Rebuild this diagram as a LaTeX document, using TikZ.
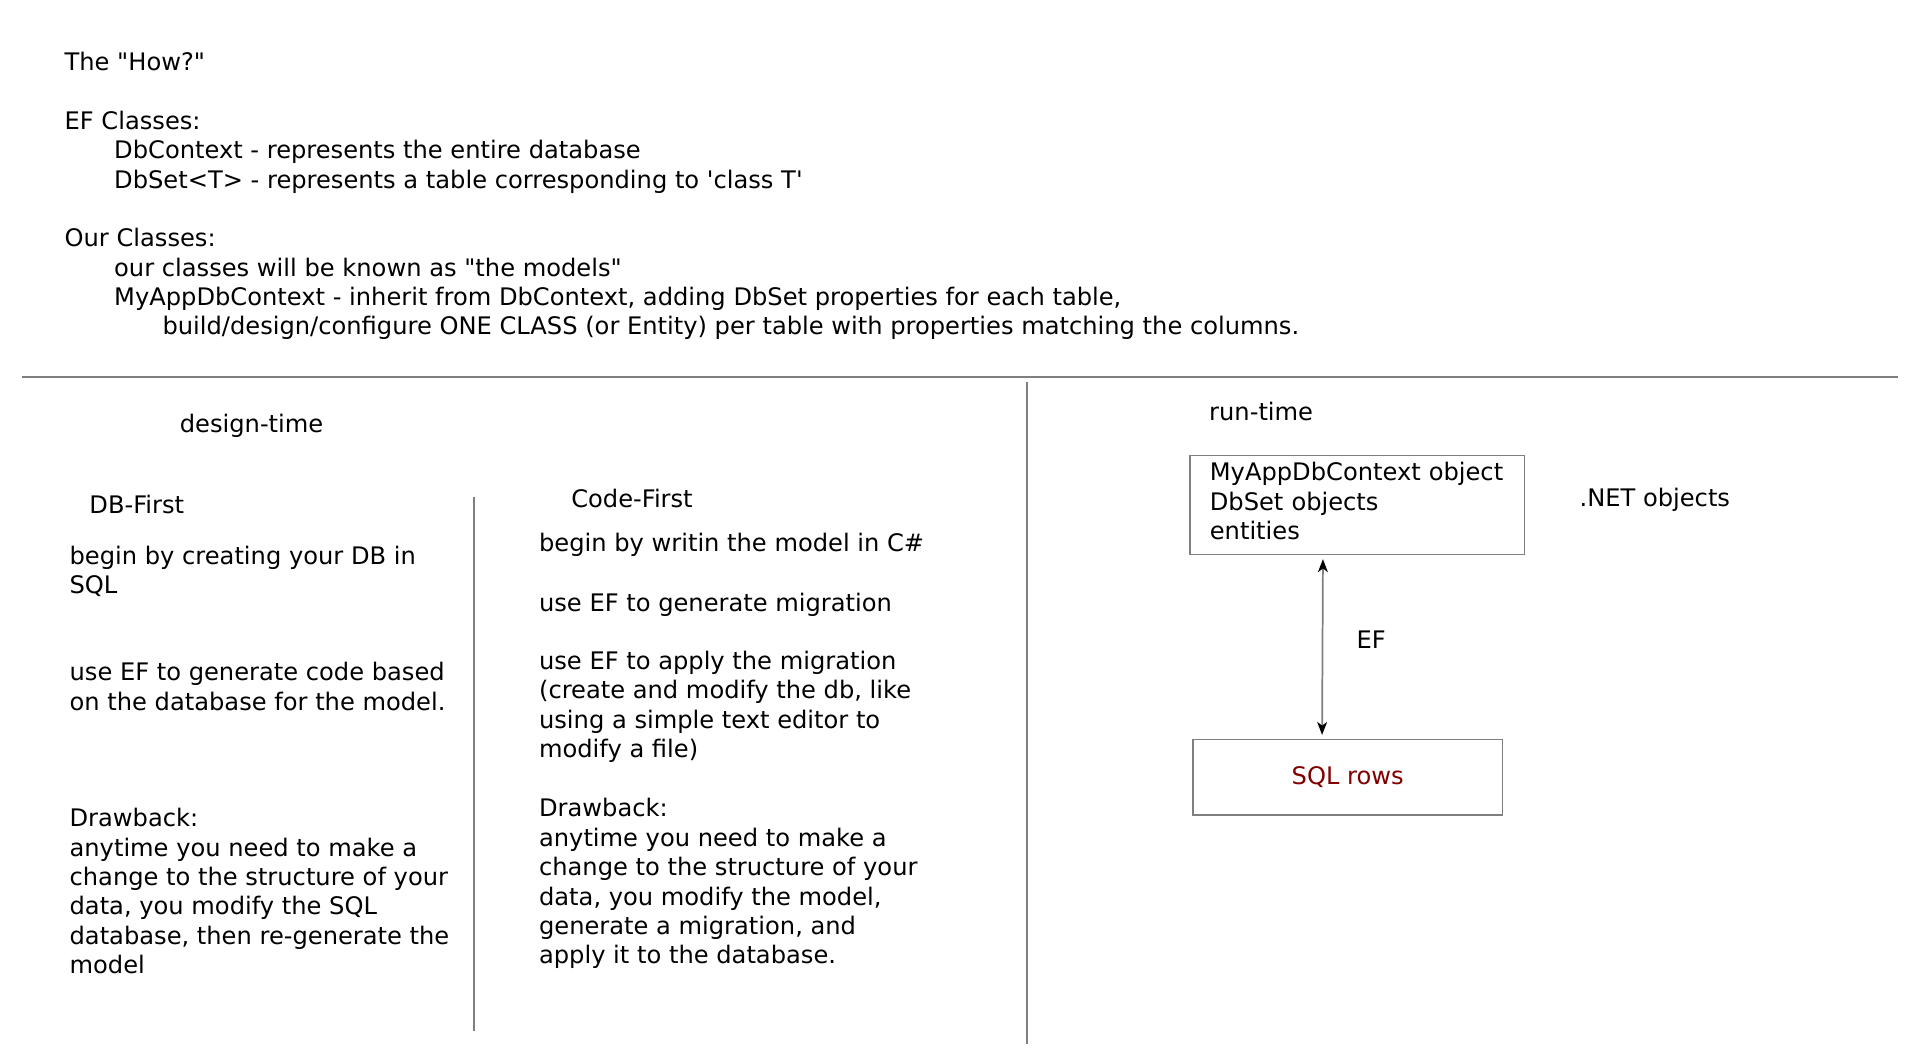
\documentclass[tikz,border=0pt]{standalone}
\usepackage{fontspec}
\setmainfont{DejaVu Sans}[Ligatures=TeXOff]
\usetikzlibrary{arrows.meta,calc}
\definecolor{rule}{HTML}{7F7F7F}
\definecolor{sqlred}{HTML}{800000}
\begin{document}
\begin{tikzpicture}[x=1pt,y=-1pt,
  txt/.style={anchor=base west, inner sep=0pt, align=left, font=\fontsize{19.5}{23.7}\selectfont},
  divider/.style={draw=rule, line width=1.6pt},
  boxed/.style={draw=rule, line width=1.4pt, font=\fontsize{19.5}{23.7}\selectfont},
  link/.style={draw=rule, line width=1.4pt, {Stealth[length=10.5pt,width=8pt,inset=3pt,color=black]}-{Stealth[length=10.5pt,width=8pt,inset=3pt,color=black]}}
]
\useasboundingbox (0,0) rectangle (1550,853);
\fill[white] (0,0) rectangle (1550,853);

% top block (anchor = baseline of the last line)
\node[txt] (how) at (52,270.3) {The "How?"\\[23.7pt]
EF Classes:\\
\hspace*{40pt}DbContext - represents the entire database\\
\hspace*{40pt}DbSet<T> - represents a table corresponding to \char"0027 class T\char"0027\\[23.7pt]
Our Classes:\\
\hspace*{40pt}our classes will be known as "the models"\\
\hspace*{40pt}MyAppDbContext - inherit from DbContext, adding DbSet properties for each table,\\
\hspace*{79pt}build/design/configure ONE CLASS (or Entity) per table with properties matching the columns.};

% dividers
\coordinate (hl) at (18,304);
\coordinate (hr) at (1532,304);
\coordinate (v1t) at (829,308);
\coordinate (v1b) at (829,843);
\coordinate (v2t) at (383,401);
\coordinate (v2b) at (383,832);
\draw[divider] (hl) -- (hr);
\draw[divider] (v1t) -- (v1b);
\draw[divider] (v2t) -- (v2b);

% design-time
\node[txt] (design) at (145,349.5) {design-time};
\node[txt] (dbfirst) at (72,414.5) {DB-First};
\node[txt] (db1) at (56,479.2) {begin by creating your DB in\\SQL};
\node[txt] (db2) at (56,573.2) {use EF to generate code based\\on the database for the model.};
\node[txt] (db3) at (56,786) {Drawback:\\anytime you need to make a\\change to the structure of your\\data, you modify the SQL\\database, then re-generate the\\model};

\node[txt] (codefirst) at (461,409.5) {Code-First};
\node[txt] (cf1) at (435,445.5) {begin by writin the model in C\#};
\node[txt] (cf2) at (435,493.5) {use EF to generate migration};
\node[txt] (cf3) at (435,611.6) {use EF to apply the migration\\(create and modify the db, like\\using a simple text editor to\\modify a file)};
\node[txt] (cf4) at (435,778) {Drawback:\\anytime you need to make a\\change to the structure of your\\data, you modify the model,\\generate a migration, and\\apply it to the database.};

% run-time
\node[txt] (runtime) at (976,339.5) {run-time};
\node[boxed, anchor=north west, minimum width=270pt, text width=238pt, inner xsep=16pt, inner ysep=0pt, text height=20.5pt, text depth=59.5pt, align=left] (objs) at (960,367) {MyAppDbContext object\\DbSet objects\\entities};
\node[txt] (net) at (1275,408.5) {.NET objects};
\node[boxed, minimum width=250pt, minimum height=61pt, text=sqlred] (sql) at (1088,627.5) {SQL rows};
\draw[link] ($(objs.south west)+(108,3)$) -- ($(sql.north west)+(105,-3)$);
\node[txt] (ef) at (1095,523.5) {EF};
\end{tikzpicture}
\end{document}
